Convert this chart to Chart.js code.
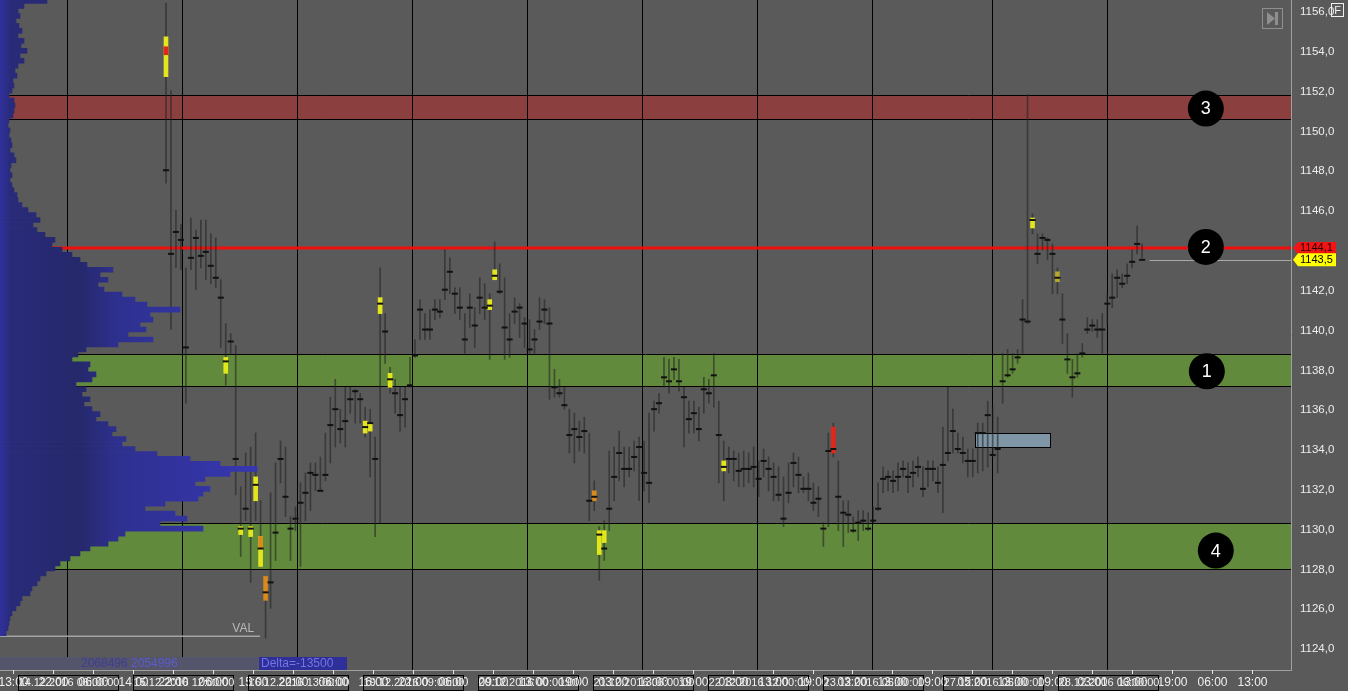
<!DOCTYPE html>
<html><head><meta charset="utf-8">
<script src="https://cdn.jsdelivr.net/npm/chart.js@4.4.1/dist/chart.umd.min.js"></script>
<style>html,body{margin:0;padding:0;background:#5a5a5a;overflow:hidden}canvas{display:block}</style>
</head><body>
<canvas id="c" width="1348" height="691"></canvas>
<script>
// ---------- DATA ----------
const barLow = [1147.35,1140.0,1143.1,1143.0,1136.3,1143.0,1142.0,1143.1,1142.5,1142.3,
1142.1,1139.1,1137.2,1138.8,1131.7,1128.6,1130.4,1127.3,1130.4,1128.1,
1124.5,1126.0,1128.4,1132.3,1130.6,1128.4,1129.9,1128.1,1130.4,1130.9,
1131.9,1131.9,1132.4,1133.3,1134.1,1134.3,1134.1,1135.8,1135.3,1135.3,
1134.6,1132.6,1129.6,1130.3,1138.3,1136.8,1135.8,1134.9,1135.1,1137.1,
1138.6,1139.5,1139.5,1139.5,1140.5,1140.6,1141.5,1141.8,1140.8,1140.5,
1138.8,1140.1,1139.1,1140.8,1140.5,1138.5,1142.5,1141.8,1138.5,1138.6,
1140.3,1139.6,1139.1,1138.8,1138.8,1140.0,1140.3,1136.5,1136.6,1136.6,
1136.0,1133.8,1133.3,1133.9,1133.8,1130.4,1130.9,1127.4,1128.4,1129.9,
1131.4,1132.4,1132.1,1132.6,1132.9,1131.4,1131.9,1131.3,1134.9,1135.8,
1137.1,1136.8,1137.5,1136.9,1134.1,1134.8,1134.8,1134.4,1135.8,1136.3,
1136.1,1132.3,1131.4,1132.8,1132.4,1132.1,1132.1,1132.3,1132.1,1131.6,
1132.6,1131.9,1131.4,1131.4,1130.1,1131.3,1132.1,1131.8,1131.8,1131.4,
1130.9,1130.6,1129.1,1130.1,1133.6,1129.9,1129.1,1129.8,1129.8,1129.4,
1129.9,1129.9,1130.3,1130.9,1131.8,1131.9,1131.8,1131.9,1132.6,1131.8,
1132.1,1132.6,1131.6,1132.1,1132.4,1131.8,1130.8,1133.4,1133.8,1133.8,
1133.3,1132.6,1132.6,1132.8,1132.9,1133.1,1133.6,1132.8,1136.3,1137.6,
1137.8,1138.3,1138.8,1140.3,1144.8,1143.3,1144.0,1143.5,1141.8,1141.8,
1139.3,1137.8,1136.6,1137.6,1138.6,1139.8,1139.9,1139.6,1138.8,1140.3,
1141.1,1141.6,1142.1,1142.3,1143.1,1143.8,1143.6];
const barHigh = [1156.4,1152.0,1146.0,1145.3,1143.1,1145.6,1145.0,1145.5,1145.5,1144.8,
1144.6,1142.5,1140.3,1139.8,1139.2,1132.1,1133.8,1134.1,1134.8,1131.4,
1127.6,1131.8,1133.3,1134.4,1134.1,1130.6,1131.1,1132.3,1132.8,1133.3,
1133.3,1133.6,1134.8,1136.6,1137.5,1136.0,1137.1,1137.1,1137.0,1136.8,
1136.1,1136.0,1134.6,1143.1,1140.8,1138.1,1137.5,1137.1,1137.1,1138.6,
1139.5,1141.5,1140.8,1141.0,1141.5,1141.5,1144.0,1143.6,1142.1,1142.1,
1140.8,1141.8,1141.1,1142.6,1142.3,1141.8,1144.4,1143.3,1142.6,1140.8,
1141.6,1141.3,1140.6,1140.5,1140.0,1141.6,1141.5,1141.1,1138.0,1137.5,
1137.1,1136.0,1135.8,1135.4,1135.6,1134.8,1132.4,1130.1,1130.4,1133.9,
1134.1,1134.9,1134.1,1134.1,1134.4,1134.6,1134.4,1135.8,1136.4,1136.8,
1138.6,1138.5,1138.6,1138.5,1137.1,1136.4,1136.4,1136.1,1137.6,1137.5,
1138.8,1136.4,1134.4,1134.1,1133.9,1133.8,1133.9,1133.8,1134.1,1133.4,
1134.0,1133.6,1133.3,1133.1,1132.6,1133.3,1133.8,1133.6,1132.6,1132.8,
1132.3,1132.1,1130.3,1134.8,1135.3,1133.4,1131.4,1131.4,1130.6,1130.9,
1130.9,1130.8,1131.1,1132.3,1133.1,1132.9,1132.9,1133.3,1133.4,1133.3,
1133.4,1133.6,1133.1,1133.4,1133.4,1133.1,1135.1,1137.1,1136.0,1134.8,
1134.6,1134.0,1134.0,1135.3,1135.3,1136.4,1136.1,1135.6,1138.8,1139.0,
1138.8,1139.0,1141.5,1151.8,1145.8,1144.8,1144.8,1144.6,1144.3,1143.1,
1141.8,1139.8,1138.5,1138.8,1139.3,1140.6,1140.5,1140.5,1140.8,1141.8,
1142.8,1143.0,1142.8,1143.3,1144.0,1145.2,1144.3];
const barClose = [1148.0,1143.8,1144.9,1144.5,1139.1,1143.6,1144.6,1143.7,1143.9,1143.2,
1142.6,1141.6,1138.4,1139.4,1133.5,1130.0,1131.0,1130.0,1132.2,1129.0,
1126.8,1127.3,1129.8,1133.5,1131.6,1130.0,1130.5,1131.3,1131.8,1132.8,
1132.7,1131.9,1132.7,1135.2,1136.0,1135.0,1135.4,1136.5,1136.9,1136.5,
1135.1,1135.3,1133.5,1141.3,1139.9,1137.5,1136.8,1135.7,1136.5,1137.2,
1138.7,1141.0,1140.0,1140.0,1141.0,1140.9,1142.0,1142.9,1141.8,1141.1,
1139.5,1141.1,1140.2,1141.6,1141.1,1141.2,1142.7,1141.9,1140.1,1139.5,
1140.9,1141.1,1140.3,1139.0,1139.5,1140.4,1141.0,1140.3,1137.1,1136.8,
1136.2,1134.7,1135.0,1134.6,1134.9,1131.4,1131.6,1129.7,1129.0,1131.0,
1132.6,1133.8,1133.0,1133.0,1133.6,1134.1,1132.8,1132.3,1136.0,1136.3,
1137.6,1137.4,1138.0,1137.4,1136.6,1135.5,1135.8,1135.0,1137.0,1136.8,
1137.7,1134.7,1133.1,1133.5,1133.5,1132.9,1133.0,1133.0,1133.1,1132.5,
1133.4,1133.0,1132.6,1131.7,1130.5,1131.8,1133.3,1132.7,1132.0,1132.0,
1131.3,1131.5,1130.0,1133.9,1134.0,1131.6,1130.8,1130.7,1129.9,1130.3,
1130.4,1130.0,1130.4,1131.0,1132.5,1132.6,1132.4,1132.6,1133.0,1132.6,
1132.8,1133.1,1132.0,1133.0,1133.0,1132.3,1133.2,1133.8,1134.9,1134.0,
1133.8,1133.4,1133.4,1134.8,1134.8,1135.7,1133.7,1134.0,1137.4,1137.7,
1138.0,1138.6,1140.5,1140.4,1145.5,1143.8,1144.6,1144.5,1143.8,1142.6,
1140.5,1138.5,1137.6,1137.8,1138.8,1140.0,1140.2,1140.0,1140.0,1141.3,
1141.6,1142.6,1142.3,1142.7,1143.4,1144.3,1143.5];

// highlighted clusters: bar index, low, high, kind
const hlBar  = [0,0,12,15,17,18,19,19,20,40,41,43,45,65,66,86,87,88,112,134,174,179];
const hlLow  = [1152.7,1153.8,1137.8,1129.7,1129.6,1131.4,1128.1,1129.0,1126.4,1134.8,1134.9,1140.8,1137.1,1141.0,1142.5,1131.4,1128.7,1129.3,1132.9,1133.8,1145.1,1142.4];
const hlHigh = [1154.7,1154.2,1138.6,1130.1,1130.1,1132.6,1129.6,1129.6,1127.6,1135.4,1135.3,1141.6,1137.8,1141.5,1143.0,1131.9,1129.9,1129.9,1133.4,1135.1,1145.6,1142.9];
const hlKind = ['y','r','y','y','y','y','y','o','o','y','y','y','y','y','y','o','y','y','y','r','y','d'];

// volume profile
const profilePrice = [1156.5,1156.25,1156.0,1155.75,1155.5,1155.25,1155.0,1154.75,1154.5,1154.25,
1154.0,1153.75,1153.5,1153.25,1153.0,1152.75,1152.5,1152.25,1152.0,1151.75,
1151.5,1151.25,1151.0,1150.75,1150.5,1150.25,1150.0,1149.75,1149.5,1149.25,
1149.0,1148.75,1148.5,1148.25,1148.0,1147.75,1147.5,1147.25,1147.0,1146.75,
1146.5,1146.25,1146.0,1145.75,1145.5,1145.25,1145.0,1144.75,1144.5,1144.25,
1144.0,1143.75,1143.5,1143.25,1143.0,1142.75,1142.5,1142.25,1142.0,1141.75,
1141.5,1141.25,1141.0,1140.75,1140.5,1140.25,1140.0,1139.75,1139.5,1139.25,
1139.0,1138.75,1138.5,1138.25,1138.0,1137.75,1137.5,1137.25,1137.0,1136.75,
1136.5,1136.25,1136.0,1135.75,1135.5,1135.25,1135.0,1134.75,1134.5,1134.25,
1134.0,1133.75,1133.5,1133.25,1133.0,1132.75,1132.5,1132.25,1132.0,1131.75,
1131.5,1131.25,1131.0,1130.75,1130.5,1130.25,1130.0,1129.75,1129.5,1129.25,
1129.0,1128.75,1128.5,1128.25,1128.0,1127.75,1127.5,1127.25,1127.0,1126.75,
1126.5,1126.25,1126.0,1125.75,1125.5,1125.25,1125.0,1124.75];
const profileVolume = [47,24,18,20,16,19,22,18,24,21,
27,20,24,18,15,17,13,14,12,9,
14,15,14,13,9,8,10,9,11,12,
10,14,16,11,10,12,10,12,14,17,
18,22,28,36,40,33,37,45,55,52,
62,72,80,87,113,100,108,98,104,122,
135,147,180,150,153,140,146,128,153,118,
86,78,72,90,88,96,92,76,86,82,
90,84,92,100,96,108,116,112,126,122,
135,157,190,220,257,230,205,195,210,203,
198,165,145,175,187,160,203,125,118,108,
90,80,70,60,55,46,40,37,32,30,
22,20,16,12,10,9,8,6];

// zones and levels
const zoneLow   = [1150.57, 1137.15, 1127.96];
const zoneHigh  = [1151.78, 1138.76, 1130.27];
const zoneColor = ['#8b3f3f', '#618a3c', '#618a3c'];
const levelLine = 1144.1;
const lastPrice = 1143.5;
const valPrice = 1124.6;
const boxBars = [162.4, 177.5];
const boxPrices = [1134.09, 1134.79];

const markerLabels = ['3','2','1','4'];
const markerBar    = [208.8, 208.8, 209.0, 210.8];
const markerPrice  = [1151.1, 1144.15, 1137.9, 1128.9];

// axes
const yTicks = [1124,1126,1128,1130,1132,1134,1136,1138,1140,1142,1144,1146,1148,1150,1152,1154,1156];
const sessionLines = [-19.88, 3.21, 26.30, 49.39, 72.48, 95.56, 118.65, 141.74, 165.83, 188.92];
const sessionLabels = ['14.12.2016 06:00:00','15.12.2016 12:00:00','16.12.2016 13:00:00','19.12.2016 09:00:00','20.12.2016 00:00:00','21.12.2016 06:00:00','22.12.2016 12:00:00','23.12.2016 05:00:00','27.12.2016 05:00:00','28.12.2016 06:00:00'];
const hourLabels = ['13:00','22:00','06:00','14:00','22:00','06:00','15:00','22:00','06:00','16:00','22:00','06:00','09:00','13:00','19:00','03:00','13:00','19:00','03:00','13:00','19:00','03:00','13:00','19:00','05:00','13:00','19:00','03:00','13:00','19:00','06:00','13:00'];
const hourTickStart = -30.78, hourTickStep = 8.03;
const statBuy = '2068496', statSell = '2054996', statDelta = 'Delta=-13500';

// ---------- STYLE ----------
const FONT = "'Liberation Sans', Arial, sans-serif";
const BG = '#5a5a5a';
const hlColors = {y:'#e3e61c', o:'#d98a1a', r:'#e3261a', d:'#b4a82a'};

function profileFill(context){
  const chart = context.chart, a = chart.chartArea;
  if (!a) return '#2d2d8c';
  const g = chart.ctx.createLinearGradient(a.left, 0, a.left + 260, 0);
  g.addColorStop(0, '#30309c');
  g.addColorStop(0.04, '#292b7a');
  g.addColorStop(0.3, '#25286a');
  g.addColorStop(0.45, '#2e308f');
  g.addColorStop(1, '#3737b2');
  return g;
}

const decor = {
  id: 'decor',
  beforeDraw(chart){
    const c = chart.ctx;
    c.save(); c.fillStyle = BG; c.fillRect(0,0,chart.width,chart.height); c.restore();
  },
  beforeDatasetsDraw(chart){
    const {ctx:c, chartArea:a, scales:{x, y}} = chart;
    c.save();
    for (let i=0;i<zoneLow.length;i++){
      const t = Math.round(y.getPixelForValue(zoneHigh[i])), b = Math.round(y.getPixelForValue(zoneLow[i]));
      c.fillStyle = zoneColor[i];
      c.fillRect(a.left, t, a.right - a.left, b - t);
      c.strokeStyle = '#000'; c.lineWidth = 1;
      c.beginPath();
      c.moveTo(a.left, t + 0.5); c.lineTo(a.right, t + 0.5);
      c.moveTo(a.left, b + 0.5); c.lineTo(a.right, b + 0.5);
      c.stroke();
    }
    c.strokeStyle = '#000'; c.lineWidth = 1;
    sessionLines.forEach(v => {
      const px = Math.round(x.getPixelForValue(v)) + 0.5;
      c.beginPath(); c.moveTo(px, a.top); c.lineTo(px, a.bottom); c.stroke();
    });
    // level line
    const ly = y.getPixelForValue(levelLine);
    c.strokeStyle = '#f20d0d'; c.lineWidth = 3;
    c.beginPath(); c.moveTo(a.left, ly); c.lineTo(a.right, ly); c.stroke();
    // last price line
    const lp = Math.round(y.getPixelForValue(lastPrice)) + 0.5;
    c.strokeStyle = '#a8a8a8'; c.lineWidth = 1;
    c.beginPath(); c.moveTo(x.getPixelForValue(barClose.length + 0.5), lp); c.lineTo(a.right, lp); c.stroke();
    // zone box
    const bx0 = Math.round(x.getPixelForValue(boxBars[0])) + 0.5, bx1 = Math.round(x.getPixelForValue(boxBars[1])) + 0.5;
    const by0 = Math.round(y.getPixelForValue(boxPrices[1])) + 0.5, by1 = Math.round(y.getPixelForValue(boxPrices[0])) + 0.5;
    c.fillStyle = '#7e96a6'; c.fillRect(bx0, by0, bx1 - bx0, by1 - by0);
    c.strokeStyle = '#000'; c.strokeRect(bx0, by0, bx1 - bx0, by1 - by0);
    // VAL
    const vy = y.getPixelForValue(valPrice);
    c.strokeStyle = '#a2a2a2'; c.lineWidth = 1.5;
    c.beginPath(); c.moveTo(a.left, vy); c.lineTo(x.getPixelForValue(18.9), vy); c.stroke();
    c.fillStyle = '#b9b9b9'; c.font = '12px ' + FONT; c.textAlign = 'right'; c.textBaseline = 'alphabetic';
    c.fillText('VAL', x.getPixelForValue(17.7), vy - 4);
    c.restore();
  },
  afterDatasetsDraw(chart){
    const {ctx:c, scales:{x, y}} = chart;
    c.save();
    c.fillStyle = '#fff'; c.font = '18px ' + FONT; c.textAlign = 'center'; c.textBaseline = 'middle';
    markerLabels.forEach((t,i) => c.fillText(t, x.getPixelForValue(markerBar[i]), y.getPixelForValue(markerPrice[i]) + 1));
    c.restore();
  },
  afterDraw(chart){
    const {ctx:c, chartArea:a, scales:{x, y}} = chart;
    c.save();
    // price tags
    const tag = (val, fill, txt, h) => {
      const py = y.getPixelForValue(val);
      c.fillStyle = fill;
      c.beginPath();
      c.moveTo(a.right + 2, py); c.lineTo(a.right + 7, py - h/2); c.lineTo(a.right + 45, py - h/2);
      c.lineTo(a.right + 45, py + h/2); c.lineTo(a.right + 7, py + h/2); c.closePath(); c.fill();
      c.fillStyle = txt; c.font = '11px ' + FONT; c.textAlign = 'left'; c.textBaseline = 'middle';
      c.fillText(val.toFixed(1).replace('.', ','), a.right + 9, py + 0.5);
    };
    tag(levelLine, '#f01414', '#2a0000', 12);
    tag(lastPrice, '#ffff00', '#000', 13);
    // bottom axis: tick marks and hour labels
    c.strokeStyle = '#e6e6e6'; c.lineWidth = 1;
    c.fillStyle = '#f0f0f0'; c.font = '12px ' + FONT; c.textAlign = 'center'; c.textBaseline = 'middle';
    hourLabels.forEach((t,k) => {
      const px = Math.round(x.getPixelForValue(hourTickStart + k*hourTickStep)) + 0.5;
      if (px > a.right) return;
      c.beginPath(); c.moveTo(px, a.bottom); c.lineTo(px, a.bottom + 4); c.stroke();
      c.fillText(t, px, a.bottom + 13);
    });
    // session date boxes
    c.font = '11px ' + FONT;
    sessionLabels.forEach((t,i) => {
      const px = Math.round(x.getPixelForValue(sessionLines[i]));
      c.strokeStyle = '#000'; c.strokeRect(px - 48.5, a.bottom + 5.5, 100, 15);
      c.fillStyle = '#f0f0f0'; c.fillText(t, px + 2, a.bottom + 13);
    });
    // stats strip
    c.fillStyle = '#54546a'; c.fillRect(0, a.bottom - 13, 258, 13);
    c.fillStyle = '#2f2f9a'; c.fillRect(259, a.bottom - 13, 88, 13);
    c.font = '12px ' + FONT; c.textAlign = 'left'; c.textBaseline = 'middle';
    c.fillStyle = '#3e3e98'; c.fillText(statBuy, 81, a.bottom - 6);
    c.fillStyle = '#5c5cce'; c.fillText(statSell, 131, a.bottom - 6);
    c.fillStyle = '#7474e6'; c.fillText(statDelta, 261, a.bottom - 6);
    // F box
    c.strokeStyle = '#f0f0f0'; c.lineWidth = 1; c.strokeRect(1331.5, 3.5, 12, 13);
    c.fillStyle = '#f0f0f0'; c.font = '11px ' + FONT; c.textAlign = 'center';
    c.fillText('F', 1337.5, 10.5);
    // scroll-to-end button
    c.strokeStyle = '#8f8f8f'; c.strokeRect(1262.5, 8.5, 20, 20);
    c.fillStyle = '#8f8f8f';
    c.beginPath(); c.moveTo(1267, 12); c.lineTo(1275, 18.5); c.lineTo(1267, 25); c.closePath(); c.fill();
    c.fillRect(1275, 12, 3, 13);
    c.restore();
  }
};

new Chart(document.getElementById('c'), {
  type: 'bar',
  data: { datasets: [
    { label:'markers', type:'scatter', xAxisID:'x', yAxisID:'y',
      data: markerBar.map((b,i) => ({x:b, y:markerPrice[i]})),
      pointRadius: 18, backgroundColor:'#000', borderWidth:0, order:-1 },
    { label:'profile', type:'bar', indexAxis:'y', xAxisID:'xv', yAxisID:'y',
      data: profilePrice.map((p,i) => ({x:profileVolume[i], y:p})),
      barThickness: 5, backgroundColor: profileFill, borderWidth:0, grouped:false, order:0 },
    { label:'close', type:'scatter', xAxisID:'x', yAxisID:'y',
      data: barClose.map((v,i) => ({x:i, y:v})),
      pointStyle:'line', pointRadius:3, borderWidth:2, borderColor:'#111', order:1 },
    { label:'clusters', type:'bar', xAxisID:'x', yAxisID:'y',
      data: hlBar.map((b,i) => ({x:b, y:[hlLow[i], hlHigh[i]]})),
      barThickness:4, backgroundColor: hlKind.map(k => hlColors[k]), borderWidth:0, grouped:false, order:2 },
    { label:'range', type:'bar', xAxisID:'x', yAxisID:'y',
      data: barLow.map((l,i) => ({x:i, y:[l, barHigh[i]]})),
      barThickness:1, backgroundColor:'rgba(36,36,36,0.6)', borderWidth:0, grouped:false, order:3 }
  ]},
  options: {
    responsive:false, animation:false, devicePixelRatio:1, events:[],
    layout:{padding:0, autoPadding:false},
    plugins:{legend:{display:false}, tooltip:{enabled:false}},
    scales: {
      x: { type:'linear', position:'bottom', min:-33.33, max:225.9, offset:false,
           grid:{display:false}, ticks:{display:false},
           border:{display:true, color:'#a0a0a0', width:1},
           afterFit: s => { s.height = 21; s.paddingLeft = 0; s.paddingRight = 0; s.paddingTop = 0; s.paddingBottom = 0; } },
      xv: { type:'linear', display:false, min:0, max:1291, offset:false },
      y: { type:'linear', position:'right', min:1122.9, max:1156.55, offset:false,
           grid:{display:false, drawTicks:false},
           border:{display:true, color:'#a0a0a0', width:1},
           ticks:{ color:'#eeeeee', padding:9, labelOffset:1, font:{family:FONT, size:11.5},
                   callback: v => v.toFixed(1).replace('.', ',') },
           afterBuildTicks: s => { s.ticks = yTicks.map(v => ({value:v})); },
           afterFit: s => { s.width = 57; s.paddingTop = 0; s.paddingBottom = 0; s.paddingLeft = 0; s.paddingRight = 0; } }
    }
  },
  plugins:[decor]
});
</script>
</body></html>
